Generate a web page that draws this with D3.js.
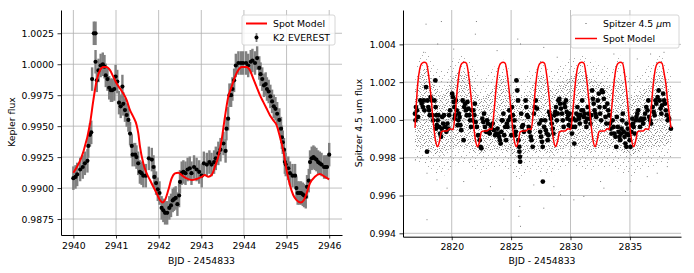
<!DOCTYPE html>
<html>
<head>
<meta charset="utf-8">
<script src="https://cdn.jsdelivr.net/npm/d3@7"></script>
<style>
  body { margin: 0; background: #fff; }
  text { font-family: "DejaVu Sans", sans-serif; }
</style>
</head>
<body>
<svg></svg>
<script>
// ---- left panel: K2 EVEREST light curve ----
var k2Time = [2940.00, 2940.05, 2940.09, 2940.16, 2940.22, 2940.27, 2940.33, 2940.35, 2940.39, 2940.42,
  2940.44, 2940.48, 2940.52, 2940.52, 2940.55, 2940.59, 2940.64, 2940.69, 2940.73, 2940.76,
  2940.80, 2940.84, 2940.88, 2940.91, 2940.96, 2940.99, 2941.03, 2941.07, 2941.11, 2941.15,
  2941.17, 2941.21, 2941.25, 2941.29, 2941.33, 2941.37, 2941.39, 2941.45, 2941.48, 2941.52,
  2941.56, 2941.60, 2941.64, 2941.70, 2941.77, 2941.84, 2941.88, 2941.90, 2941.94, 2941.98,
  2942.02, 2942.07, 2942.11, 2942.15, 2942.20, 2942.25, 2942.29, 2942.33, 2942.36, 2942.40,
  2942.44, 2942.48, 2942.50, 2942.54, 2942.58, 2942.63, 2942.68, 2942.73, 2942.77, 2942.83,
  2942.89, 2942.95, 2943.01, 2943.06, 2943.13, 2943.19, 2943.24, 2943.30, 2943.34, 2943.40,
  2943.45, 2943.52, 2943.57, 2943.59, 2943.63, 2943.66, 2943.70, 2943.73, 2943.77, 2943.81,
  2943.87, 2943.93, 2943.98, 2944.05, 2944.10, 2944.16, 2944.20, 2944.26, 2944.31, 2944.36,
  2944.39, 2944.43, 2944.47, 2944.51, 2944.54, 2944.58, 2944.62, 2944.66, 2944.70, 2944.74,
  2944.78, 2944.83, 2944.87, 2944.89, 2944.91, 2944.94, 2944.96, 2944.98, 2945.04, 2945.08,
  2945.14, 2945.20, 2945.23, 2945.26, 2945.30, 2945.34, 2945.38, 2945.41, 2945.45, 2945.48,
  2945.52, 2945.55, 2945.59, 2945.63, 2945.66, 2945.70, 2945.74, 2945.78, 2945.82, 2945.88,
  2945.92, 2945.95, 2946.00];
var k2Flux = [0.9908, 0.9909, 0.9911, 0.9915, 0.9917, 0.9920, 0.9922, 0.9934, 0.9943, 0.9945,
  0.9988, 1.0025, 1.0025, 1.0002, 0.9987, 0.9995, 0.9999, 1.0000, 0.9998, 0.9991,
  0.9988, 0.9981, 0.9979, 0.9979, 0.9980, 0.9990, 0.9986, 0.9969, 0.9966, 0.9982,
  0.9968, 0.9963, 0.9959, 0.9955, 0.9944, 0.9934, 0.9927, 0.9927, 0.9925, 0.9920,
  0.9913, 0.9912, 0.9910, 0.9910, 0.9924, 0.9923, 0.9917, 0.9909, 0.9904, 0.9899,
  0.9896, 0.9884, 0.9882, 0.9880, 0.9880, 0.9884, 0.9886, 0.9890, 0.9891, 0.9892,
  0.9887, 0.9894, 0.9905, 0.9912, 0.9913, 0.9912, 0.9915, 0.9916, 0.9912, 0.9917,
  0.9915, 0.9913, 0.9910, 0.9920, 0.9919, 0.9921, 0.9919, 0.9921, 0.9924, 0.9928,
  0.9931, 0.9936, 0.9930, 0.9948, 0.9956, 0.9975, 0.9975, 0.9980, 0.9987, 0.9999,
  1.0001, 1.0001, 1.0001, 1.0001, 0.9999, 1.0002, 1.0003, 1.0001, 1.0005, 0.9997,
  0.9992, 0.9988, 0.9983, 0.9984, 0.9980, 0.9978, 0.9974, 0.9970, 0.9966, 0.9964,
  0.9960, 0.9955, 0.9948, 0.9941, 0.9937, 0.9931, 0.9921, 0.9919, 0.9916, 0.9912,
  0.9910, 0.9910, 0.9900, 0.9896, 0.9896, 0.9896, 0.9895, 0.9894, 0.9893, 0.9901,
  0.9906, 0.9921, 0.9924, 0.9925, 0.9924, 0.9923, 0.9921, 0.9920, 0.9919, 0.9917,
  0.9917, 0.9917, 0.9927];
var k2Err = 0.00095;

var k2ModelTime = [2940.000, 2940.234, 2940.391, 2940.469, 2940.547, 2940.625, 2940.703, 2940.781, 2940.859, 2940.938,
  2941.016, 2941.094, 2941.172, 2941.250, 2941.328, 2941.406, 2941.484, 2941.523, 2941.563, 2941.641,
  2941.719, 2941.797, 2941.875, 2941.953, 2942.031, 2942.094, 2942.148, 2942.227, 2942.305, 2942.383,
  2942.461, 2942.539, 2942.656, 2942.773, 2942.891, 2943.008, 2943.086, 2943.164, 2943.242, 2943.320,
  2943.398, 2943.477, 2943.555, 2943.633, 2943.711, 2943.789, 2943.867, 2943.945, 2944.063, 2944.141,
  2944.219, 2944.297, 2944.375, 2944.453, 2944.531, 2944.609, 2944.688, 2944.766, 2944.844, 2944.922,
  2945.000, 2945.078, 2945.156, 2945.234, 2945.336, 2945.406, 2945.469, 2945.547, 2945.664, 2945.781,
  2945.898, 2946.000];
var k2ModelFlux = [0.99124, 0.99293, 0.99521, 0.99710, 0.99871, 0.99952, 0.99978, 0.99978, 0.99952, 0.99898,
  0.99844, 0.99804, 0.99763, 0.99710, 0.99629, 0.99575, 0.99508, 0.99441, 0.99333, 0.99199,
  0.99118, 0.99065, 0.99011, 0.98957, 0.98903, 0.98884, 0.98903, 0.98984, 0.99078, 0.99118,
  0.99124, 0.99105, 0.99078, 0.99065, 0.99073, 0.99091, 0.99105, 0.99091, 0.99105, 0.99172,
  0.99253, 0.99387, 0.99575, 0.99737, 0.99817, 0.99898, 0.99952, 0.99978, 0.99978, 0.99952,
  0.99884, 0.99817, 0.99750, 0.99696, 0.99642, 0.99589, 0.99548, 0.99508, 0.99414, 0.99306,
  0.99145, 0.99024, 0.98944, 0.98903, 0.98884, 0.98903, 0.98957, 0.99038, 0.99091, 0.99113,
  0.99091, 0.99070];

var k2TicksX = [2940, 2941, 2942, 2943, 2944, 2945, 2946];
var k2TicksY = [0.9875, 0.9900, 0.9925, 0.9950, 0.9975, 1.0000, 1.0025];

// ---- right panel: Spitzer 4.5 um ----
// envelope of the dense cloud of unbinned Spitzer points
var cloudTime = [2816.9, 2817.7, 2818.5, 2819.2, 2820.0, 2821.0, 2821.8, 2822.5, 2823.3, 2824.3,
  2825.1, 2825.8, 2826.6, 2827.6, 2828.4, 2829.1, 2829.9, 2830.9, 2831.7, 2832.4,
  2833.2, 2834.2, 2835.0, 2835.7, 2836.5, 2837.5, 2838.5];
var cloudCoreHi = [1.0015, 1.0028, 1.0020, 1.0014, 1.0022, 1.0026, 1.0018, 1.0012, 1.0016, 1.0024,
  1.0014, 1.0012, 1.0016, 1.0024, 1.0016, 1.0020, 1.0022, 1.0026, 1.0022, 1.0020,
  1.0018, 1.0022, 1.0012, 1.0014, 1.0018, 1.0026, 1.0015];
var cloudCoreLo = [0.9986, 0.9985, 0.9982, 0.9981, 0.9985, 0.9986, 0.9983, 0.9982, 0.9984, 0.9984,
  0.9982, 0.9980, 0.9983, 0.9983, 0.9981, 0.9984, 0.9986, 0.9985, 0.9983, 0.9985,
  0.9985, 0.9983, 0.9981, 0.9983, 0.9985, 0.9986, 0.9987];
var cloudOuterHi = [1.0024, 1.0036, 1.0030, 1.0026, 1.0032, 1.0034, 1.0028, 1.0022, 1.0026, 1.0032,
  1.0024, 1.0022, 1.0026, 1.0032, 1.0026, 1.0030, 1.0032, 1.0034, 1.0032, 1.0030,
  1.0028, 1.0034, 1.0022, 1.0024, 1.0028, 1.0036, 1.0022];
var cloudOuterLo = [0.9978, 0.9976, 0.9972, 0.9970, 0.9975, 0.9977, 0.9974, 0.9972, 0.9975, 0.9974,
  0.9972, 0.9968, 0.9973, 0.9972, 0.9970, 0.9974, 0.9976, 0.9975, 0.9973, 0.9975,
  0.9975, 0.9972, 0.9970, 0.9973, 0.9975, 0.9976, 0.9978];

// stray unbinned points outside the cloud
var strayTime = [2817.84, 2819.13, 2822.08, 2825.56, 2820.17, 2817.64, 2818.82, 2823.82, 2827.75, 2828.88,
  2830.84, 2833.65, 2834.63, 2835.62, 2836.74, 2837.87, 2825.79, 2821.99,
  2817.92, 2825.79, 2825.65, 2825.73, 2827.75, 2830.28, 2831.12, 2832.81, 2834.63, 2824.38,
  2823.26, 2819.61, 2818.76, 2821.01, 2826.91, 2829.16, 2832.53, 2835.06, 2837.30, 2838.15,
  2817.92, 2816.94, 2828.60, 2836.46];
var strayFlux = [1.00507, 1.00521, 1.00521, 1.00428, 1.00375, 1.00358, 1.00402, 1.00367, 1.00384, 1.00332,
  1.00288, 1.00349, 1.00402, 1.00323, 1.00349, 1.00358, 1.00402, 1.00454,
  0.99472, 0.99437, 0.99490, 0.99542, 0.99533, 0.99577, 0.99595, 0.99639, 0.99621, 0.99581,
  0.99647, 0.99639, 0.99683, 0.99674, 0.99656, 0.99604, 0.99674, 0.99674, 0.99718, 0.99753,
  0.99718, 0.99788, 0.99647, 0.99700];

// binned Spitzer points (black)
var binTime = [2816.91, 2816.99, 2817.08, 2817.16, 2816.95, 2817.36, 2817.47, 2817.58, 2817.65, 2817.70,
  2817.84, 2817.92, 2817.95, 2818.03, 2818.10, 2818.15, 2818.22, 2818.30, 2818.37, 2818.45,
  2818.62, 2818.55, 2818.65, 2818.70, 2818.75, 2818.68, 2818.82, 2818.88, 2818.95, 2819.02,
  2819.10, 2819.16, 2819.20, 2819.28, 2819.35, 2819.45, 2819.55, 2819.64, 2819.72, 2819.78,
  2819.86, 2820.04, 2820.10, 2820.17, 2820.22, 2820.28, 2820.25, 2820.35, 2820.42, 2820.50,
  2820.56, 2820.60, 2820.66, 2820.73, 2820.80, 2821.00, 2820.92, 2821.05, 2821.12, 2821.20,
  2821.27, 2821.32, 2821.40, 2821.48, 2821.55, 2821.62, 2821.68, 2821.76, 2821.82, 2821.90,
  2821.95, 2822.02, 2822.12, 2822.22, 2822.35, 2822.42, 2822.50, 2822.58, 2822.66, 2822.72,
  2822.80, 2822.90, 2822.98, 2823.05, 2823.12, 2823.20, 2823.28, 2823.35, 2823.45, 2823.55,
  2823.65, 2823.75, 2823.85, 2823.92, 2824.00, 2824.05, 2824.12, 2824.18, 2824.22, 2824.28,
  2824.35, 2824.42, 2824.50, 2824.58, 2824.64, 2824.70, 2824.78, 2824.85, 2824.92, 2825.02,
  2825.08, 2825.15, 2825.22, 2825.28, 2825.35, 2825.40, 2825.45, 2825.52, 2825.58, 2825.62,
  2825.68, 2825.70, 2825.74, 2825.76, 2825.85, 2825.92, 2826.00, 2826.08, 2826.22, 2826.28,
  2826.35, 2826.42, 2826.48, 2826.55, 2826.65, 2826.72, 2826.82, 2826.92, 2827.00, 2827.08,
  2827.18, 2827.38, 2827.45, 2827.52, 2827.60, 2827.66, 2827.55, 2827.67, 2827.78, 2827.85,
  2827.92, 2828.00, 2828.08, 2828.14, 2828.20, 2828.28, 2828.35, 2828.42, 2828.50, 2828.56,
  2828.65, 2828.72, 2828.78, 2828.85, 2828.92, 2828.98, 2829.06, 2829.12, 2829.20, 2829.28,
  2829.35, 2829.42, 2829.48, 2829.55, 2829.62, 2829.68, 2829.75, 2829.80, 2829.85, 2829.92,
  2829.98, 2830.05, 2830.12, 2830.18, 2830.24, 2830.32, 2830.38, 2830.45, 2830.50, 2830.58,
  2830.65, 2830.72, 2830.78, 2830.85, 2830.92, 2830.98, 2831.05, 2831.12, 2831.20, 2831.28,
  2831.34, 2831.38, 2831.45, 2831.52, 2831.60, 2831.68, 2831.74, 2831.82, 2831.88, 2831.95,
  2832.02, 2832.10, 2832.16, 2832.30, 2832.38, 2832.44, 2832.50, 2832.58, 2832.64, 2832.72,
  2832.80, 2832.88, 2832.95, 2833.02, 2833.10, 2833.18, 2833.25, 2833.32, 2833.38, 2833.45,
  2833.55, 2833.62, 2833.70, 2833.78, 2833.85, 2833.90, 2833.98, 2834.05, 2834.12, 2834.18,
  2834.25, 2834.30, 2834.35, 2834.40, 2834.48, 2834.55, 2834.62, 2834.70, 2834.75, 2834.72,
  2834.82, 2834.90, 2834.98, 2835.05, 2835.12, 2835.18, 2835.20, 2835.26, 2835.32, 2835.40,
  2835.48, 2835.55, 2835.62, 2835.70, 2835.78, 2835.85, 2835.95, 2836.05, 2836.12, 2836.20,
  2836.28, 2836.38, 2836.48, 2836.55, 2836.62, 2836.70, 2836.78, 2836.92, 2837.00, 2837.08,
  2837.15, 2837.22, 2837.33, 2837.42, 2837.50, 2837.58, 2837.65, 2837.70, 2837.80, 2837.88,
  2837.95, 2838.02, 2838.10, 2838.18, 2838.30, 2838.45];
var binFlux = [1.00033, 1.00068, 1.00051, 1.00016, 0.99998, 1.00103, 1.00086, 1.00068, 1.00103, 1.00051,
  1.00174, 0.99832, 1.00103, 1.00068, 1.00051, 1.00025, 1.00121, 1.00103, 1.00025, 0.99998,
  1.00209, 1.00103, 1.00068, 1.00025, 0.99972, 0.99954, 0.99998, 1.00025, 0.99963, 0.99928,
  0.99911, 0.99954, 1.00016, 0.99981, 1.00025, 0.99963, 0.99937, 0.99981, 0.99954, 1.00025,
  1.00051, 1.00139, 1.00121, 1.00095, 1.00068, 1.00025, 1.00007, 1.00103, 1.00051, 0.99972,
  0.99998, 1.00033, 1.00016, 0.99972, 0.99946, 0.99893, 1.00103, 1.00068, 1.00086, 1.00051,
  1.00025, 1.00095, 1.00060, 1.00025, 0.99998, 0.99963, 1.00051, 0.99998, 1.00051, 1.00025,
  1.00086, 0.99989, 0.99963, 0.99919, 0.99893, 0.99858, 0.99850, 1.00007, 0.99989, 1.00033,
  0.99963, 0.99937, 0.99998, 0.99981, 0.99937, 0.99928, 0.99972, 0.99954, 0.99981, 0.99946,
  0.99919, 0.99928, 0.99954, 0.99928, 0.99911, 0.99893, 0.99875, 0.99937, 0.99998, 0.99998,
  1.00033, 0.99919, 0.99963, 0.99893, 0.99981, 0.99963, 0.99998, 1.00051, 1.00016, 0.99919,
  1.00068, 1.00025, 0.99963, 0.99998, 0.99919, 0.99937, 1.00209, 1.00156, 1.00103, 0.99893,
  0.99858, 0.99832, 0.99805, 0.99779, 1.00033, 0.99963, 0.99972, 0.99937, 1.00103, 1.00068,
  1.00025, 1.00016, 0.99963, 0.99937, 0.99911, 0.99893, 0.99858, 1.00033, 1.00068, 1.00103,
  1.00060, 0.99981, 0.99937, 0.99911, 0.99884, 0.99858, 0.99998, 0.99674, 0.99963, 0.99998,
  0.99946, 0.99928, 0.99893, 0.99919, 1.00042, 1.00025, 1.00007, 0.99981, 0.99954, 0.99928,
  1.00025, 1.00042, 1.00068, 0.99998, 1.00033, 1.00103, 1.00112, 1.00086, 1.00060, 1.00033,
  0.99998, 0.99963, 1.00086, 1.00068, 1.00103, 1.00042, 1.00007, 1.00025, 0.99972, 1.00033,
  0.99998, 0.99963, 0.99928, 0.99963, 1.00007, 0.99875, 0.99963, 0.99998, 1.00033, 1.00068,
  1.00025, 1.00007, 0.99981, 1.00025, 1.00051, 1.00103, 1.00051, 1.00016, 1.00033, 0.99989,
  0.99963, 1.00007, 1.00068, 1.00033, 1.00007, 0.99981, 1.00025, 1.00156, 1.00112, 1.00086,
  1.00051, 1.00033, 1.00016, 1.00103, 1.00139, 1.00068, 1.00033, 0.99998, 1.00156, 1.00147,
  1.00112, 1.00068, 1.00016, 0.99981, 1.00086, 1.00051, 1.00025, 0.99981, 0.99954, 0.99928,
  0.99998, 0.99963, 0.99928, 0.99911, 0.99858, 1.00016, 0.99963, 0.99937, 0.99911, 0.99893,
  0.99928, 0.99954, 0.99998, 1.00033, 0.99937, 0.99911, 0.99875, 0.99858, 0.99928, 0.99981,
  0.99954, 0.99919, 0.99893, 0.99858, 0.99937, 0.99972, 1.00007, 0.99981, 0.99963, 0.99928,
  0.99998, 1.00016, 1.00033, 1.00051, 0.99998, 0.99963, 1.00007, 0.99998, 0.99981, 1.00007,
  1.00033, 1.00068, 1.00051, 1.00103, 1.00016, 0.99998, 0.99981, 1.00068, 1.00042, 1.00025,
  1.00103, 1.00086, 1.00121, 1.00156, 1.00103, 1.00060, 1.00033, 1.00077, 1.00139, 1.00103,
  1.00086, 1.00051, 1.00025, 0.99998, 1.00007, 0.99954];

// spot model for Spitzer band
var spModelTime = [2816.91, 2817.14, 2817.31, 2817.50, 2817.70, 2817.87, 2818.07, 2818.26, 2818.43, 2818.63,
  2818.82, 2818.99, 2819.13, 2819.33, 2819.61, 2819.84,
  2820.12, 2820.31, 2820.51, 2820.68, 2820.87, 2821.07, 2821.24, 2821.44, 2821.63, 2821.80,
  2822.00, 2822.19, 2822.36, 2822.50, 2822.70, 2822.98, 2823.21,
  2823.38, 2823.57, 2823.77, 2823.94, 2824.13, 2824.33, 2824.50, 2824.70, 2824.89, 2825.06,
  2825.26, 2825.45, 2825.62, 2825.76, 2825.96, 2826.24, 2826.47,
  2826.69, 2826.88, 2827.08, 2827.25, 2827.44, 2827.64, 2827.81, 2828.01, 2828.20, 2828.37,
  2828.57, 2828.76, 2828.93, 2829.07, 2829.27, 2829.55, 2829.78,
  2830.01, 2830.20, 2830.40, 2830.57, 2830.76, 2830.96, 2831.13, 2831.33, 2831.52, 2831.69,
  2831.89, 2832.08, 2832.25, 2832.39, 2832.59, 2832.87, 2833.10,
  2833.26, 2833.45, 2833.65, 2833.82, 2834.01, 2834.21, 2834.38, 2834.58, 2834.77, 2834.94,
  2835.14, 2835.33, 2835.50, 2835.64, 2835.84, 2836.12, 2836.35,
  2836.58, 2836.77, 2836.97, 2837.14, 2837.33, 2837.53, 2837.70, 2837.90, 2838.03, 2838.17,
  2838.32, 2838.45];
var spModelFlux = [0.99958, 1.0019, 1.0027, 1.0030, 1.00305, 1.0030, 1.0023, 1.0012, 1.0000, 0.99893,
  0.99858, 0.99893, 0.99937, 0.99942, 0.99942, 0.99954,
  0.99949, 1.0005, 1.0019, 1.0027, 1.0030, 1.00305, 1.0030, 1.0023, 1.0012, 1.0000,
  0.99893, 0.99858, 0.99893, 0.99937, 0.99942, 0.99942, 0.99954,
  0.99949, 1.0005, 1.0019, 1.0027, 1.0030, 1.00305, 1.0030, 1.0023, 1.0012, 1.0000,
  0.99893, 0.99858, 0.99893, 0.99937, 0.99942, 0.99942, 0.99954,
  0.99949, 1.0005, 1.0019, 1.0027, 1.0030, 1.00305, 1.0030, 1.0023, 1.0012, 1.0000,
  0.99893, 0.99858, 0.99893, 0.99937, 0.99942, 0.99942, 0.99954,
  0.99949, 1.0005, 1.0019, 1.0027, 1.0030, 1.00305, 1.0030, 1.0023, 1.0012, 1.0000,
  0.99893, 0.99858, 0.99893, 0.99937, 0.99942, 0.99942, 0.99954,
  0.99949, 1.0005, 1.0019, 1.0027, 1.0030, 1.00305, 1.0030, 1.0023, 1.0012, 1.0000,
  0.99893, 0.99858, 0.99893, 0.99937, 0.99942, 0.99942, 0.99954,
  0.99949, 1.0005, 1.0019, 1.0027, 1.0030, 1.00305, 1.0030, 1.0024, 1.0019, 1.0010,
  1.0003, 0.99958];

var spTicksX = [2820, 2825, 2830, 2835];
var spTicksY = [0.994, 0.996, 0.998, 1.000, 1.002, 1.004];

window.onload = function() {
  var width = 694;
  var height = 273;

  var svg = d3.select("svg")
    .attr("width", width)
    .attr("height", height);

  var defs = svg.append("defs");

  // speckle fills for the unbinned Spitzer cloud (irregular dot tiles)
  function speckle(id, w, h, dots, colour) {
    var p = defs.append("pattern")
      .attr("id", id)
      .attr("patternUnits", "userSpaceOnUse")
      .attr("width", w).attr("height", h);
    dots.forEach(function(d) {
      p.append("rect").attr("x", d[0]).attr("y", d[1])
        .attr("width", 1).attr("height", 1)
        .attr("fill", colour).attr("fill-opacity", d[2]);
    });
  }
  speckle("speckleCore", 11, 10,
    [[0, 0, 0.9], [5, 0, 0.6], [8, 1, 0.8], [2, 2, 0.7], [10, 2, 0.6], [6, 3, 0.9],
     [3, 4, 0.6], [9, 5, 0.8], [0, 5, 0.5], [5, 5, 0.7], [7, 6, 0.6], [2, 6, 0.8],
     [4, 7, 0.9], [1, 8, 0.6], [10, 8, 0.7], [6, 9, 0.8], [8, 9, 0.5], [3, 9, 0.4]], "#6f6f6f");
  speckle("speckleOuter", 11, 10,
    [[1, 1, 0.7], [7, 2, 0.8], [4, 5, 0.6], [10, 6, 0.7], [2, 8, 0.6], [8, 9, 0.5]], "#7a7a7a");

  // one panel: grid, spines, ticks, x label
  function drawFrame(x, y, ticksX, ticksY, fmtX, fmtY) {
    var g = svg.append("g");
    var x0 = x.range()[0], x1 = x.range()[1];
    var y0 = y.range()[0], y1 = y.range()[1];

    g.selectAll(".gx").data(ticksX).enter().append("line")
      .attr("x1", function(d) { return x(d); })
      .attr("x2", function(d) { return x(d); })
      .attr("y1", y0).attr("y2", y1)
      .attr("stroke", "#b0b0b0").attr("stroke-width", 0.8);
    g.selectAll(".gy").data(ticksY).enter().append("line")
      .attr("x1", x0).attr("x2", x1)
      .attr("y1", function(d) { return y(d); })
      .attr("y2", function(d) { return y(d); })
      .attr("stroke", "#b0b0b0").attr("stroke-width", 0.8);

    var ax = svg.append("g")
      .attr("transform", "translate(0," + y0 + ")")
      .call(d3.axisBottom(x).tickValues(ticksX).tickFormat(fmtX)
        .tickSize(3.5).tickSizeOuter(0).tickPadding(3.5));
    var ay = svg.append("g")
      .attr("transform", "translate(" + x0 + ",0)")
      .call(d3.axisLeft(y).tickValues(ticksY).tickFormat(fmtY)
        .tickSize(3.5).tickSizeOuter(0).tickPadding(3.5));
    [ax, ay].forEach(function(a) {
      a.select(".domain").attr("stroke", "#000").attr("stroke-width", 1);
      a.selectAll(".tick line").attr("stroke", "#000").attr("stroke-width", 0.8);
      a.selectAll(".tick text")
        .attr("fill", "#000")
        .style("font-family", "DejaVu Sans")
        .style("font-size", "9.3px");
    });

    svg.append("text")
      .attr("x", (x0 + x1) / 2)
      .attr("y", 264)
      .attr("text-anchor", "middle")
      .style("font-size", "9.3px")
      .text("BJD - 2454833");
  }

  // ---------- left panel ----------
  var xL = d3.scaleLinear().domain([2939.71, 2946.3]).range([61, 342]);
  var yL = d3.scaleLinear().domain([0.98621, 1.00438]).range([235, 10]);

  drawFrame(xL, yL, k2TicksX, k2TicksY, d3.format("d"), d3.format(".4f"));
  svg.append("text")
    .attr("transform", "translate(15,122) rotate(-90)")
    .attr("text-anchor", "middle")
    .style("font-size", "9.3px")
    .text("Kepler flux");

  var k2 = k2Time.map(function(t, i) { return { t: t, f: k2Flux[i] }; });

  var plotL = svg.append("g");
  plotL.selectAll(".err").data(k2).enter().append("line")
    .attr("x1", function(d) { return xL(d.t); })
    .attr("x2", function(d) { return xL(d.t); })
    .attr("y1", function(d) { return yL(d.f - k2Err); })
    .attr("y2", function(d) { return yL(d.f + k2Err); })
    .attr("stroke", "#808080")
    .attr("stroke-width", 2.4);
  plotL.selectAll(".pt").data(k2).enter().append("circle")
    .attr("cx", function(d) { return xL(d.t); })
    .attr("cy", function(d) { return yL(d.f); })
    .attr("r", 2.1)
    .attr("fill", "#000");

  var lineL = d3.line()
    .x(function(d, i) { return xL(k2ModelTime[i]); })
    .y(function(d) { return yL(d); })
    .curve(d3.curveMonotoneX);
  plotL.append("path")
    .attr("d", lineL(k2ModelFlux))
    .attr("fill", "none")
    .attr("stroke", "#ff0000")
    .attr("stroke-width", 2);

  // legend (left)
  var legL = svg.append("g");
  legL.append("rect")
    .attr("x", 242).attr("y", 15).attr("width", 93).attr("height", 30)
    .attr("rx", 2)
    .attr("fill", "#fff").attr("fill-opacity", 0.8)
    .attr("stroke", "#cccccc").attr("stroke-width", 0.8);
  legL.append("line")
    .attr("x1", 246).attr("x2", 267).attr("y1", 23.5).attr("y2", 23.5)
    .attr("stroke", "#ff0000").attr("stroke-width", 2);
  legL.append("line")
    .attr("x1", 256.5).attr("x2", 256.5).attr("y1", 33).attr("y2", 42)
    .attr("stroke", "#808080").attr("stroke-width", 1.8);
  legL.append("circle")
    .attr("cx", 256.5).attr("cy", 37.5).attr("r", 2).attr("fill", "#000");
  legL.append("text").attr("x", 273).attr("y", 23.5).attr("dy", "0.35em")
    .style("font-size", "9.3px").text("Spot Model");
  legL.append("text").attr("x", 273).attr("y", 37.5).attr("dy", "0.35em")
    .style("font-size", "9.3px").text("K2 EVEREST");

  // ---------- right panel ----------
  var xR = d3.scaleLinear().domain([2815.9, 2839.3]).range([403, 681]);
  var yR = d3.scaleLinear().domain([0.99382, 1.00582]).range([236.7, 10]);

  drawFrame(xR, yR, spTicksX, spTicksY, d3.format("d"), d3.format(".3f"));
  svg.append("text")
    .attr("transform", "translate(362,123) rotate(-90)")
    .attr("text-anchor", "middle")
    .style("font-size", "9.3px")
    .text("Spitzer 4.5 um flux");

  var plotR = svg.append("g");
  var cloudOuter = d3.area()
    .x(function(d, i) { return xR(cloudTime[i]); })
    .y0(function(d, i) { return yR(cloudOuterLo[i]); })
    .y1(function(d, i) { return yR(cloudOuterHi[i]); })
    .curve(d3.curveMonotoneX);
  var cloudCore = d3.area()
    .x(function(d, i) { return xR(cloudTime[i]); })
    .y0(function(d, i) { return yR(cloudCoreLo[i]); })
    .y1(function(d, i) { return yR(cloudCoreHi[i]); })
    .curve(d3.curveMonotoneX);
  plotR.append("path").attr("d", cloudOuter(cloudTime)).attr("fill", "url(#speckleOuter)");
  plotR.append("path").attr("d", cloudCore(cloudTime)).attr("fill", "url(#speckleCore)");

  plotR.selectAll(".stray").data(strayTime).enter().append("rect")
    .attr("x", function(d) { return xR(d) - 0.5; })
    .attr("y", function(d, i) { return yR(strayFlux[i]) - 0.5; })
    .attr("width", 1).attr("height", 1)
    .attr("fill", "#7a7a7a");

  plotR.selectAll(".bin").data(binTime).enter().append("circle")
    .attr("cx", function(d) { return xR(d); })
    .attr("cy", function(d, i) { return yR(binFlux[i]); })
    .attr("r", 2.4)
    .attr("fill", "#000");

  var lineR = d3.line()
    .x(function(d, i) { return xR(spModelTime[i]); })
    .y(function(d) { return yR(d); })
    .curve(d3.curveMonotoneX);
  plotR.append("path")
    .attr("d", lineR(spModelFlux))
    .attr("fill", "none")
    .attr("stroke", "#ff0000")
    .attr("stroke-width", 1.5);

  // legend (right)
  var legR = svg.append("g");
  legR.append("rect")
    .attr("x", 571).attr("y", 15).attr("width", 108).attr("height", 33)
    .attr("rx", 2)
    .attr("fill", "#fff").attr("fill-opacity", 0.8)
    .attr("stroke", "#cccccc").attr("stroke-width", 0.8);
  legR.append("rect")
    .attr("x", 585.5).attr("y", 23).attr("width", 1).attr("height", 1)
    .attr("fill", "#555");
  legR.append("line")
    .attr("x1", 575).attr("x2", 597).attr("y1", 38.5).attr("y2", 38.5)
    .attr("stroke", "#ff0000").attr("stroke-width", 1.5);
  var t1 = legR.append("text").attr("x", 603).attr("y", 23.5).attr("dy", "0.35em")
    .style("font-size", "9.3px");
  t1.append("tspan").text("Spitzer 4.5 ");
  t1.append("tspan").style("font-style", "italic").text("\u03bc");
  t1.append("tspan").text("m");
  legR.append("text").attr("x", 603).attr("y", 38.5).attr("dy", "0.35em")
    .style("font-size", "9.3px").text("Spot Model");
};
</script>
</body>
</html>
